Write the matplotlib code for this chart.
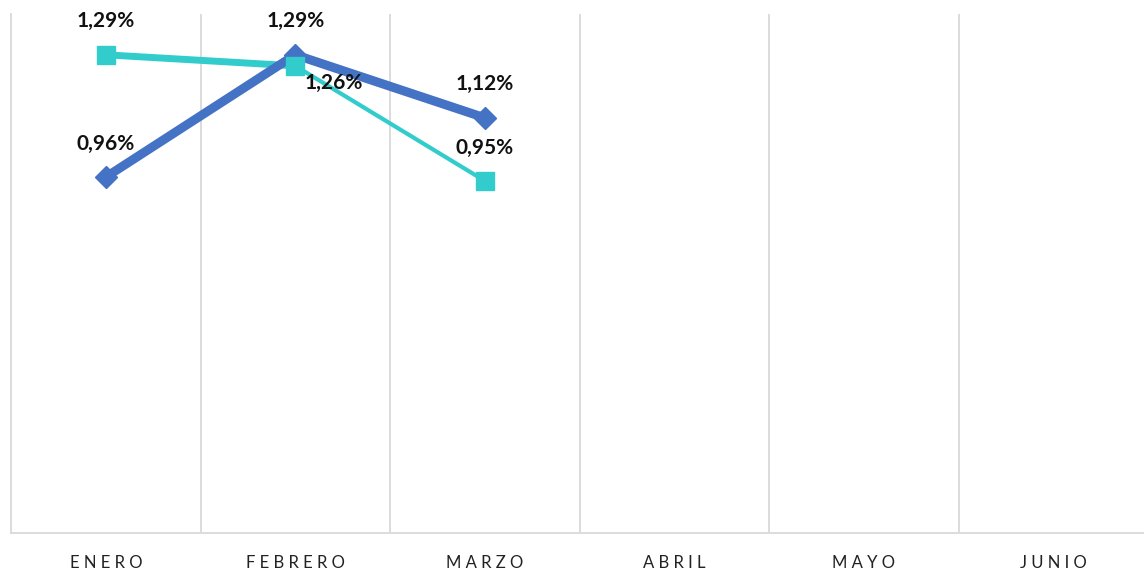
import matplotlib
matplotlib.use("Agg")
import matplotlib.pyplot as plt

months = ["ENERO", "FEBRERO", "MARZO", "ABRIL", "MAYO", "JUNIO"]
serie_azul = [0.96, 1.29, 1.12]
serie_turquesa = [1.29, 1.26, 0.95]
etiquetas_azul = ["0,96%", "1,29%", "1,12%"]
etiquetas_turquesa = ["1,29%", "1,26%", "0,95%"]

AZUL = "#4472C4"
TURQ = "#33CCCC"

plt.rcParams['font.family'] = ['Lato', 'DejaVu Sans']

W, H = 1144, 571
fig = plt.figure(figsize=(W / 100, H / 100), dpi=100)
left, right, top, bottom = 11, 1148, 14, 533
ax = fig.add_axes([left / W, 1 - bottom / H, (right - left) / W, (bottom - top) / H])
ax.set_xlim(-0.5, 5.5)
ax.set_ylim(0, 1.4)

# vertical gridlines at category boundaries
for b in range(1, 6):
    ax.axvline(b - 0.5, color="#d9d9d9", lw=1.3, zorder=0)

for s in ["top", "right"]:
    ax.spines[s].set_visible(False)
ax.spines["left"].set_color("#d9d9d9")
ax.spines["left"].set_linewidth(1.3)
ax.spines["bottom"].set_color("#d9d9d9")
ax.spines["bottom"].set_linewidth(1.3)
ax.set_yticks([])
ax.set_xticks(range(len(months)))
ax.set_xticklabels([" ".join(m) for m in months], fontsize=12, color="#222222")
ax.tick_params(axis="x", length=0, pad=16)

x_az = list(range(len(serie_azul)))
x_tq = list(range(len(serie_turquesa)))

# turquoise series: first segment thicker than second
ax.plot(x_tq[0:2], serie_turquesa[0:2], color=TURQ, lw=5, solid_capstyle="butt", zorder=2)
ax.plot(x_tq[1:3], serie_turquesa[1:3], color=TURQ, lw=3.0, solid_capstyle="butt", zorder=2)
# blue series
ax.plot(x_az, serie_azul, color=AZUL, lw=6.5, marker="D", markersize=11, zorder=3,
        solid_joinstyle="miter")
ax.plot(x_tq, serie_turquesa, linestyle="none", marker="s", markersize=12.5,
        color=TURQ, zorder=4)

for xi, yi, t in zip(x_az, serie_azul, etiquetas_azul):
    ax.annotate(t, (xi, yi), xytext=(0, 24), textcoords="offset points",
                ha="center", va="center", fontsize=15, fontweight="bold", color="#111111")
offs_tq = [(0, 24), (28, -12), (0, 24)]
for (xi, yi, t), off in zip(zip(x_tq, serie_turquesa, etiquetas_turquesa), offs_tq):
    ax.annotate(t, (xi, yi), xytext=off, textcoords="offset points",
                ha="center", va="center", fontsize=15, fontweight="bold", color="#111111")

fig.savefig("out.png", dpi=100, facecolor="white")
